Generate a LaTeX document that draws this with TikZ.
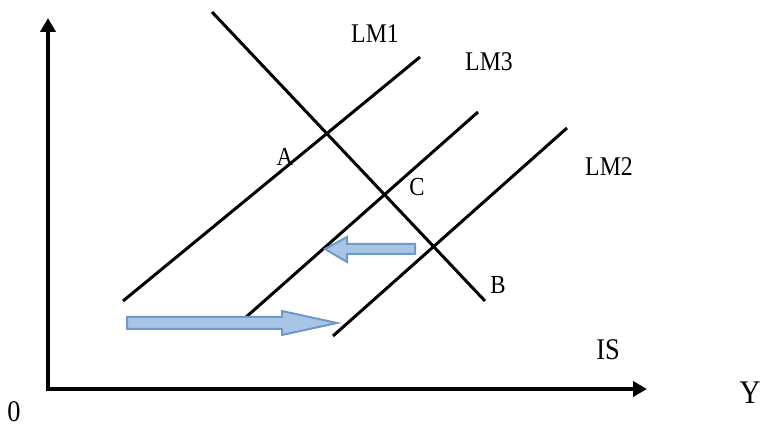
\documentclass[tikz,border=0pt]{standalone}
\usepackage{fontspec}
\setmainfont[FakeStretch=0.88]{Liberation Serif}
\usetikzlibrary{arrows.meta}
\definecolor{arrfill}{RGB}{168,197,229}
\definecolor{arrdraw}{RGB}{112,152,200}
\tikzset{
  axis/.style={line width=3.5pt,-{Triangle[length=14pt,width=15pt]}},
  curve/.style={line width=3pt},
  lbl/.style={font=\fontsize{27}{27}\selectfont, inner sep=0pt},
  pt/.style={font=\fontsize{26}{26}\selectfont, inner sep=0pt},
  blockarrow/.style={fill=arrfill, draw=arrdraw, line width=2pt, line join=miter}
}
\begin{document}
\begin{tikzpicture}[x=1pt,y=-1pt]
\useasboundingbox (0,0) rectangle (763,430);
% axes
\coordinate (O) at (48,389);
\coordinate (ytop) at (48,18);
\coordinate (xend) at (647,389);
\draw[axis] (48,391) -- (ytop);
\draw[axis] (46.25,389) -- (xend);
% curves
\coordinate (is1) at (212,12);  \coordinate (is2) at (485,301);
\coordinate (lm1a) at (123,301); \coordinate (lm1b) at (420,57);
\coordinate (lm3a) at (245,318); \coordinate (lm3b) at (478,112);
\coordinate (lm2a) at (333,336); \coordinate (lm2b) at (567,128);
\draw[curve] (is1) -- (is2);
\draw[curve] (lm1a) -- (lm1b);
\draw[curve] (lm3a) -- (lm3b);
\draw[curve] (lm2a) -- (lm2b);
% block arrows
\draw[blockarrow] (415,244) -- (347,244) -- (347,237) -- (325,249) -- (347,262) -- (347,254) -- (415,254) -- cycle;
\draw[blockarrow] (127,317) -- (282,317) -- (282,311) -- (337,323) -- (282,335) -- (282,329) -- (127,329) -- cycle;
% labels
\node[lbl] (tLM1) at (375,34) {LM1};
\node[lbl] (tLM3) at (489,62) {LM3};
\node[lbl] (tLM2) at (609,167) {LM2};
\node[font=\fontsize{30}{30}\selectfont, inner sep=0pt] (tIS) at (608,350) {IS};
\node[font=\fontsize{33}{33}\selectfont, inner sep=0pt] (tY) at (750,393) {Y};
\node[font=\fontsize{30}{30}\selectfont, inner sep=0pt] (t0) at (14,412) {0};
\node[pt] (tA) at (285,157) {A};
\node[pt] (tC) at (417,187) {C};
\node[pt] (tB) at (498,285) {B};
\end{tikzpicture}
\end{document}
